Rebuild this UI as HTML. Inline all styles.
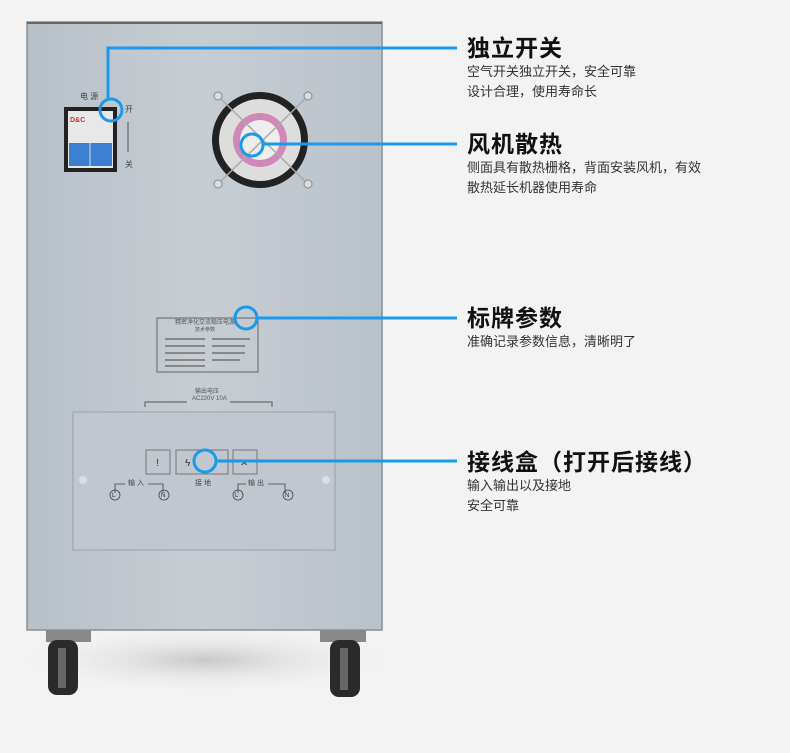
<!DOCTYPE html>
<html><head><meta charset="utf-8"><style>
body{margin:0;width:790px;height:753px;overflow:hidden;background:#f3f3f3;font-family:"Liberation Sans","Noto Sans CJK SC",sans-serif;position:relative}
.t{position:absolute;left:467px;color:#111;font-size:23px;font-weight:bold;line-height:26px;letter-spacing:1px}
.s{position:absolute;left:467px;color:#333;font-size:13px;line-height:20px}
</style></head><body>
<svg width="790" height="753" style="position:absolute;left:0;top:0">
<defs>
<linearGradient id="cab" x1="0" x2="1"><stop offset="0" stop-color="#b9c1c8"/><stop offset="0.5" stop-color="#c6cdd3"/><stop offset="1" stop-color="#bac2c9"/></linearGradient>
<radialGradient id="sh" cx="0.5" cy="0.5" r="0.5"><stop offset="0" stop-color="#c8c8c8"/><stop offset="1" stop-color="#f3f3f3" stop-opacity="0"/></radialGradient>
</defs>
<ellipse cx="205" cy="660" rx="200" ry="35" fill="url(#sh)"/>
<!-- wheels -->
<rect x="46" y="630" width="45" height="12" fill="#888"/>
<rect x="48" y="640" width="30" height="55" rx="9" fill="#2a2a2a"/>
<rect x="58" y="648" width="8" height="40" fill="#666"/>
<rect x="320" y="630" width="46" height="12" fill="#888"/>
<rect x="330" y="640" width="30" height="57" rx="9" fill="#2a2a2a"/>
<rect x="340" y="648" width="8" height="42" fill="#666"/>
<!-- cabinet -->
<rect x="27" y="22" width="355" height="608" fill="url(#cab)" stroke="#8a9096" stroke-width="1.5"/>
<line x1="27" y1="23" x2="382" y2="23" stroke="#666" stroke-width="2"/>
<!-- breaker -->
<text x="80" y="99" font-size="8" fill="#444">电 源</text>
<rect x="64" y="107" width="53" height="65" fill="#222"/>
<rect x="68" y="111" width="45" height="57" fill="#e8e8e8"/>
<text x="70" y="122" font-size="7" fill="#c33" font-weight="bold">D&amp;C</text>
<rect x="69" y="143" width="43" height="23" fill="#3a7fd0"/>
<line x1="90" y1="143" x2="90" y2="166" stroke="#ddd"/>
<text x="125" y="112" font-size="8" fill="#444">开</text>
<line x1="128" y1="122" x2="128" y2="152" stroke="#555"/>
<text x="125" y="167" font-size="8" fill="#444">关</text>
<!-- fan -->
<circle cx="260" cy="140" r="48" fill="#222"/>
<circle cx="260" cy="140" r="41" fill="#ddd"/>
<circle cx="260" cy="140" r="27" fill="#d088b8"/>
<circle cx="260" cy="140" r="20" fill="#eee"/>
<g stroke="#aaa" stroke-width="1.5"><line x1="218" y1="96" x2="308" y2="184"/><line x1="308" y1="96" x2="218" y2="184"/></g>
<g fill="#ddd" stroke="#888"><circle cx="218" cy="96" r="4"/><circle cx="308" cy="96" r="4"/><circle cx="218" cy="184" r="4"/><circle cx="308" cy="184" r="4"/></g>
<!-- nameplate -->
<rect x="157" y="318" width="101" height="54" fill="none" stroke="#666" stroke-width="1"/>
<text x="175" y="324" font-size="6" fill="#555">精密净化交流稳压电源</text>
<text x="195" y="331" font-size="5" fill="#555">技术参数</text>
<g stroke="#888" stroke-width="2"><line x1="165" y1="339" x2="205" y2="339"/><line x1="212" y1="339" x2="250" y2="339"/><line x1="165" y1="346" x2="205" y2="346"/><line x1="212" y1="346" x2="245" y2="346"/><line x1="165" y1="353" x2="205" y2="353"/><line x1="212" y1="353" x2="245" y2="353"/><line x1="165" y1="360" x2="205" y2="360"/><line x1="212" y1="360" x2="240" y2="360"/><line x1="165" y1="366" x2="205" y2="366"/></g>
<text x="195" y="393" font-size="6" fill="#555">输出电压</text>
<text x="192" y="400" font-size="6" fill="#555">AC220V 10A</text>
<path d="M145 407V402H187M230 402H272V407" fill="none" stroke="#555"/>
<!-- bottom panel -->
<rect x="73" y="412" width="262" height="138" fill="#c0c7ce" stroke="#9aa1a8"/>
<g fill="none" stroke="#777"><rect x="146" y="450" width="24" height="24"/><rect x="176" y="450" width="52" height="24"/><rect x="233" y="450" width="24" height="24"/></g>
<text x="156" y="466" font-size="10" fill="#333">!</text>
<text x="185" y="466" font-size="10" fill="#333">ϟ</text>
<text x="240" y="466" font-size="10" fill="#333">✕</text>
<circle cx="83" cy="480" r="4" fill="#ddd"/><circle cx="326" cy="480" r="4" fill="#ddd"/>
<g font-size="7" fill="#444"><text x="128" y="485">输 入</text><text x="195" y="485">接 地</text><text x="248" y="485">输 出</text></g>
<g fill="none" stroke="#444" stroke-width="0.8"><path d="M115 493V484H125M148 484H163V493M238 493V484H246M268 484H285V493"/><circle cx="115" cy="495" r="5"/><circle cx="164" cy="495" r="5"/><circle cx="238" cy="495" r="5"/><circle cx="288" cy="495" r="5"/></g>
<g font-size="6" fill="#333"><text x="112" y="497">L</text><text x="161" y="497">N</text><text x="235" y="497">L</text><text x="285" y="497">N</text></g>
<!-- callouts -->
<g fill="none" stroke="#1a9aec" stroke-width="3">
<path d="M108 99V48H457"/><circle cx="111" cy="110" r="11"/>
<circle cx="252" cy="145" r="11"/><path d="M263 144H457"/>
<circle cx="246" cy="318" r="11"/><path d="M257 318H457"/>
<circle cx="205" cy="461" r="11"/><path d="M216 461H457"/>
</g>
</svg>
<div class="t" style="top:35px">独立开关</div>
<div class="s" style="top:62px">空气开关独立开关，安全可靠<br>设计合理，使用寿命长</div>
<div class="t" style="top:131px">风机散热</div>
<div class="s" style="top:158px">侧面具有散热栅格，背面安装风机，有效<br>散热延长机器使用寿命</div>
<div class="t" style="top:305px">标牌参数</div>
<div class="s" style="top:332px">准确记录参数信息，清晰明了</div>
<div class="t" style="top:449px">接线盒（打开后接线）</div>
<div class="s" style="top:476px">输入输出以及接地<br>安全可靠</div>
</body></html>
